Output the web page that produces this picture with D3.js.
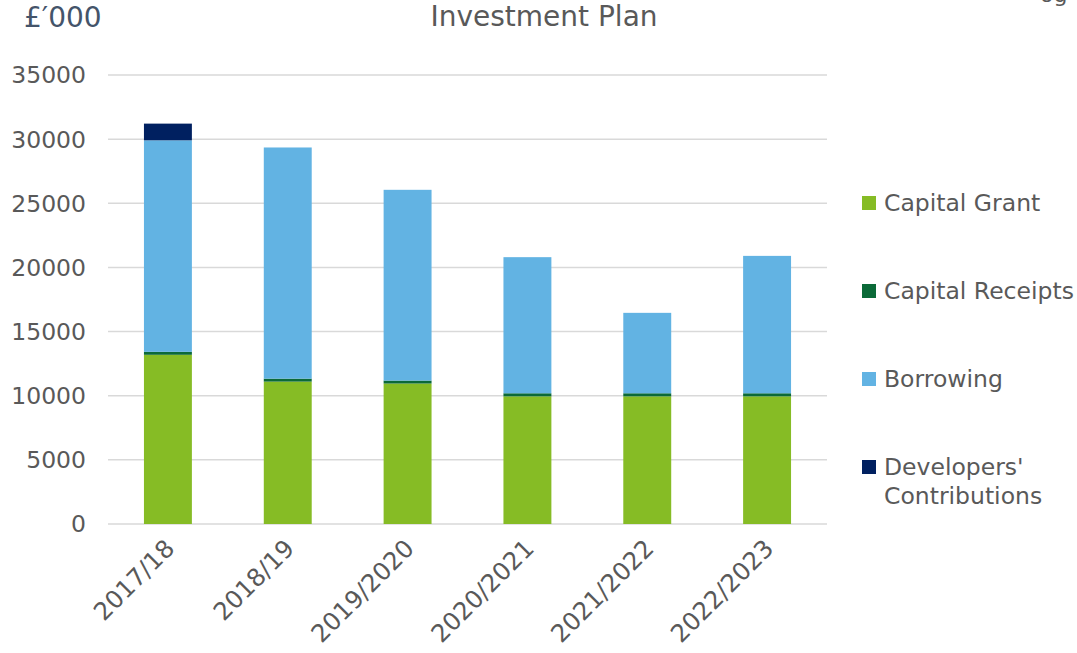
<!DOCTYPE html>
<html>
<head>
<meta charset="utf-8">
<script src="https://cdn.jsdelivr.net/npm/d3@7"></script>
<style>
  body { margin: 0; background: #fff; }
  svg text { font-family: "DejaVu Sans", Verdana, sans-serif; }
</style>
</head>
<body>
<div id="chart"></div>
<script>
// Investment plan, £'000 by year
const years = ["2017/18", "2018/19", "2019/2020", "2020/2021", "2021/2022", "2022/2023"];
const capitalGrant = [13190, 11100, 10950, 9950, 9950, 9950];
const capitalReceipts = [230, 230, 230, 240, 240, 240];
const borrowing = [16490, 18020, 14870, 10610, 6270, 10710];
const developersContributions = [1300, 0, 0, 0, 0, 0];
const yTicks = [0, 5000, 10000, 15000, 20000, 25000, 30000, 35000];

const seriesNames = ["Capital Grant", "Capital Receipts", "Borrowing", "Developers' Contributions"];
const seriesColors = ["#86bc25", "#0b6a38", "#62b3e3", "#002060"];

const width = 1077, height = 653;
const margin = { left: 108, right: 250, top: 75, bottom: 129 };

const svg = d3.select("#chart").append("svg")
    .attr("width", width)
    .attr("height", height);

// build rows for the stack
const rows = years.map((y, i) => ({
    year: y,
    "Capital Grant": capitalGrant[i],
    "Capital Receipts": capitalReceipts[i],
    "Borrowing": borrowing[i],
    "Developers' Contributions": developersContributions[i]
}));
const stacked = d3.stack().keys(seriesNames)(rows);

const x = d3.scaleBand()
    .domain(years)
    .range([margin.left, width - margin.right])
    .paddingInner(0.6)
    .paddingOuter(0.3);

const y = d3.scaleLinear()
    .domain([0, 35000])
    .range([height - margin.bottom, margin.top]);

// gridlines
svg.append("g")
    .selectAll("line")
    .data(yTicks)
    .join("line")
    .attr("x1", margin.left)
    .attr("x2", width - margin.right)
    .attr("y1", d => y(d))
    .attr("y2", d => y(d))
    .attr("stroke", "#d9d9d9")
    .attr("stroke-width", 1.5);

// y tick labels
svg.append("g")
    .selectAll("text")
    .data(yTicks)
    .join("text")
    .attr("x", 86)
    .attr("y", d => y(d))
    .attr("dy", "0.36em")
    .attr("text-anchor", "end")
    .attr("font-size", 23.5)
    .attr("fill", "#595959")
    .text(d => d);

// bars
svg.append("g")
    .selectAll("g")
    .data(stacked)
    .join("g")
    .attr("fill", (d, i) => seriesColors[i])
    .selectAll("rect")
    .data(d => d)
    .join("rect")
    .attr("x", d => x(d.data.year))
    .attr("width", x.bandwidth())
    .attr("y", d => y(d[1]))
    .attr("height", d => y(d[0]) - y(d[1]));

// x labels, rotated
svg.append("g")
    .selectAll("text")
    .data(years)
    .join("text")
    .attr("transform", d => `translate(${x(d) + x.bandwidth() / 2 + 8},${height - margin.bottom + 26}) rotate(-45)`)
    .attr("text-anchor", "end")
    .attr("font-size", 24.5)
    .attr("fill", "#595959")
    .text(d => d);

// title and unit label
svg.append("text")
    .attr("x", 544)
    .attr("y", 26)
    .attr("text-anchor", "middle")
    .attr("font-size", 28)
    .attr("fill", "#595959")
    .text("Investment Plan");

svg.append("text")
    .attr("x", 24)
    .attr("y", 27)
    .attr("font-size", 28)
    .attr("fill", "#44546a")
    .text("£\u2032000");

// clipped text in the top right corner
svg.append("text")
    .attr("x", 1040)
    .attr("y", 2)
    .attr("font-size", 22)
    .attr("fill", "#595959")
    .text("og");

// legend
const legendY = [203, 291, 379, 467];
const legend = svg.append("g")
    .selectAll("g")
    .data(seriesNames)
    .join("g")
    .attr("transform", (d, i) => `translate(862,${legendY[i]})`);

legend.append("rect")
    .attr("x", 0)
    .attr("y", -7)
    .attr("width", 14)
    .attr("height", 14)
    .attr("fill", (d, i) => seriesColors[i]);

legend.append("text")
    .attr("x", 22)
    .attr("font-size", 23.5)
    .attr("fill", "#595959")
    .selectAll("tspan")
    .data(d => d === "Developers' Contributions" ? ["Developers'", "Contributions"] : [d])
    .join("tspan")
    .attr("x", 22)
    .attr("y", (d, i) => i * 29)
    .attr("dy", "0.36em")
    .text(d => d);
</script>
</body>
</html>
